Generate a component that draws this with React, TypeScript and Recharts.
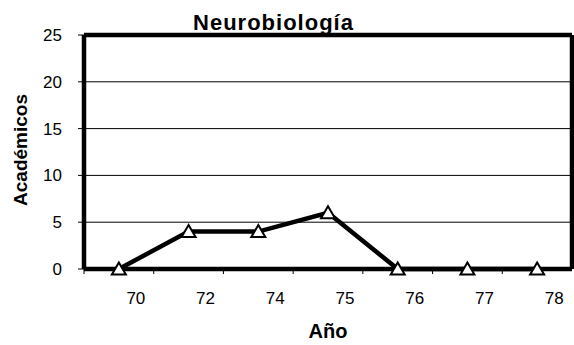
import { LineChart, Line, XAxis, YAxis, CartesianGrid } from 'recharts'

const years = ['70', '72', '74', '75', '76', '77', '78']
const academicos = [0, 4, 4, 6, 0, 0, 0]
const yTicks = [0, 5, 10, 15, 20, 25]

const data = years.map((year, i) => ({ year, value: academicos[i] }))

const FONT = '"Liberation Sans", Arial, Helvetica, sans-serif'
const X_TICK_SIZE = 5
const X_TICK_MARGIN = 18

// open triangle marker, white fill with black outline
function Triangle(props: any) {
  const { cx, cy } = props
  if (cx == null || cy == null) return null
  return (
    <path
      d={`M${cx},${cy - 6.5} L${cx + 7},${cy + 5.5} L${cx - 7},${cy + 5.5} Z`}
      fill="#fff"
      stroke="#000"
      strokeWidth={2}
    />
  )
}

// tick mark sits between categories, the label is shifted right of the point
function YearTick(props: any) {
  const { x, y, payload, width } = props
  const half = width / years.length / 2
  const axisY = y - X_TICK_SIZE - X_TICK_MARGIN
  return (
    <g>
      <line x1={x - half} x2={x - half} y1={axisY} y2={axisY + X_TICK_SIZE} stroke="#000" strokeWidth={1} />
      <text x={x + 17} y={y} dy="0.71em" textAnchor="middle" fontFamily={FONT} fontSize={17} fill="#000">
        {payload.value}
      </text>
    </g>
  )
}

export default function App() {
  return (
    <div style={{ position: 'relative', width: 574, height: 345, background: '#fff' }}>
      <style>{'body{margin:0}'}</style>
      <div
        style={{
          position: 'absolute',
          top: 12,
          left: 0,
          width: 547,
          textAlign: 'center',
          fontFamily: FONT,
          fontWeight: 'bold',
          fontSize: 22,
          lineHeight: '22px',
          letterSpacing: 1,
        }}
      >
        Neurobiología
      </div>
      <LineChart width={574} height={345} data={data} margin={{ top: 34, right: 1, bottom: 0, left: 0 }}>
        <CartesianGrid vertical={false} stroke="#000" strokeWidth={1} />
        <XAxis
          dataKey="year"
          scale="band"
          height={76}
          tickSize={X_TICK_SIZE}
          tickMargin={X_TICK_MARGIN}
          tickLine={false}
          tick={<YearTick />}
          axisLine={{ stroke: '#000', strokeWidth: 4.5 }}
          label={{
            content: ({ viewBox }: any) => (
              <text
                x={viewBox.x + viewBox.width / 2}
                y={viewBox.y + 69}
                textAnchor="middle"
                fontFamily={FONT}
                fontWeight="bold"
                fontSize={20}
                fill="#000"
              >
                Año
              </text>
            ),
          }}
        />
        <XAxis
          xAxisId="top"
          orientation="top"
          dataKey="year"
          scale="band"
          height={1}
          tick={false}
          tickLine={false}
          axisLine={{ stroke: '#000', strokeWidth: 4.5 }}
        />
        <YAxis
          domain={[0, 25]}
          ticks={yTicks}
          width={84}
          tickSize={6}
          tickMargin={16}
          tickLine={{ stroke: '#000', strokeWidth: 1 }}
          tick={{ fill: '#000', fontFamily: FONT, fontSize: 17 }}
          axisLine={{ stroke: '#000', strokeWidth: 4.5 }}
          label={{
            content: ({ viewBox }: any) => {
              const cx = 26.5
              const cy = viewBox.y + viewBox.height / 2 - 2
              return (
                <text
                  x={cx}
                  y={cy}
                  transform={`rotate(-90 ${cx} ${cy})`}
                  textAnchor="middle"
                  fontFamily={FONT}
                  fontWeight="bold"
                  fontSize={19}
                  fill="#000"
                >
                  Académicos
                </text>
              )
            },
          }}
        />
        <YAxis
          yAxisId="right"
          orientation="right"
          width={1}
          domain={[0, 25]}
          tick={false}
          tickLine={false}
          axisLine={{ stroke: '#000', strokeWidth: 4.5 }}
        />
        <Line
          type="linear"
          dataKey="value"
          stroke="#000"
          strokeWidth={4.5}
          dot={<Triangle />}
          activeDot={false}
          isAnimationActive={false}
        />
      </LineChart>
    </div>
  )
}
